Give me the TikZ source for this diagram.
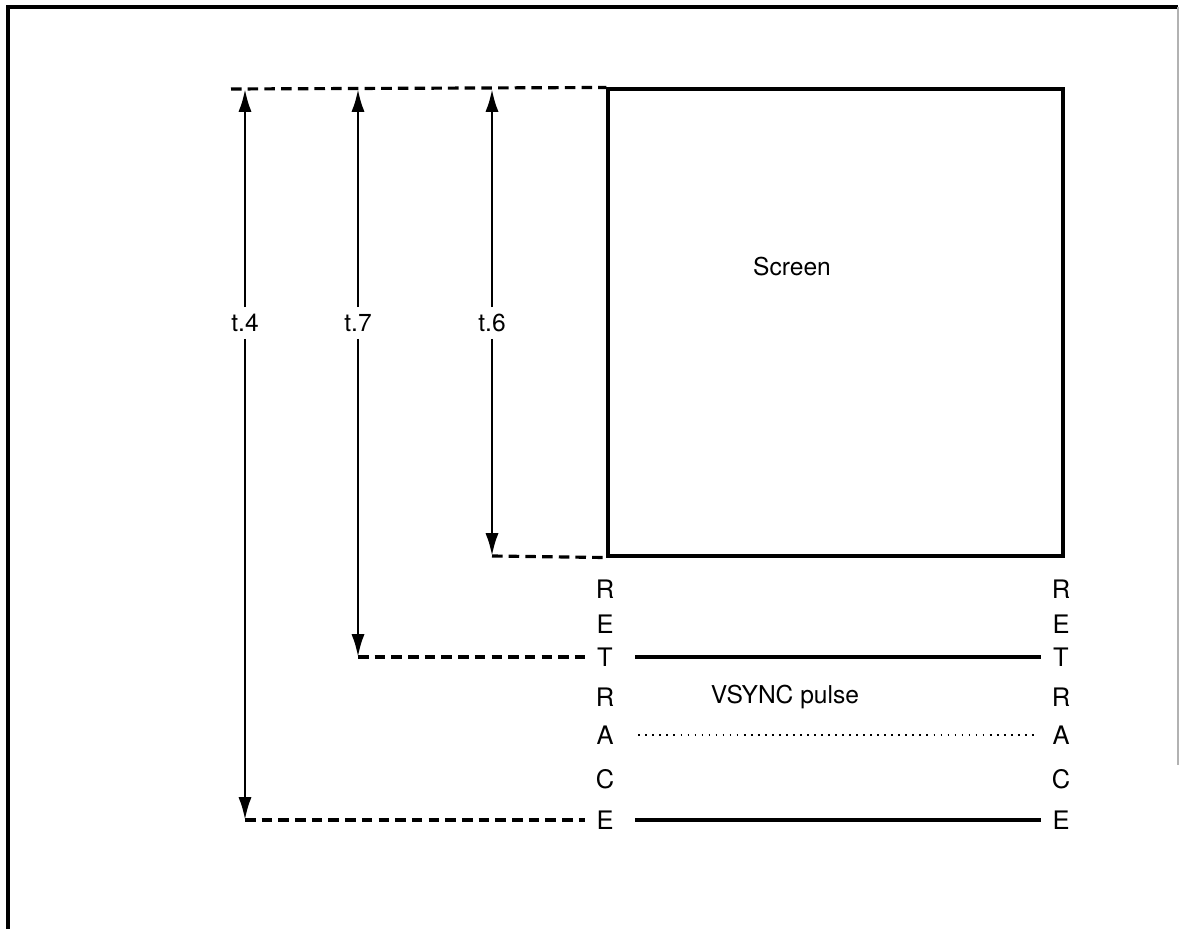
\documentclass[tikz,border=0pt]{standalone}
\usepackage{fontspec}
\setmainfont{TeX Gyre Heros}
\usetikzlibrary{arrows.meta}
\usetikzlibrary{positioning}
\tikzset{frame/.style = {line width=1.8pt},
         screenbox/.style = {draw, line width=1.8pt, minimum width=9.1cm,
                             minimum height=9.34cm, inner sep=0pt},
         dimline/.style = {line width=1.6pt, -{Latex[length=13pt, width=7.5pt]}},
         guide/.style = {line width=1.8pt, dash pattern=on 6pt off 3.5pt},
         pulse/.style = {line width=1.8pt},
         dots/.style = {line width=1.2pt, dash pattern=on 1pt off 3pt},
         letter/.style = {font=\fontsize{14.5}{17}\selectfont, inner sep=0pt,
                          minimum width=0.8cm},
         tlabel/.style = {font=\fontsize{14}{17}\selectfont, inner xsep=0pt,
                          minimum height=0.62cm}}

\begin{document}
\begin{tikzpicture}[x=0.02cm, y=-0.02cm]
    \useasboundingbox (0, 0) rectangle (1180, 929);
    \draw [frame] (8, 929) -- (8, 7) -- (1178, 7);
    \draw [gray!60, line width=0.6pt] (1178, 7) -- (1178, 765);

    \node [screenbox] (screen) at (835.5, 322.5) {};
    \node [font=\fontsize{14}{17}\selectfont] (screenlab) at (792, 267) {Screen};

    % retrace columns
    \foreach \c/\y [count=\i] in {R/589, E/624, T/657, R/697, A/735, C/779, E/820} {
      \node [letter] (lret\i) at (605, \y) {\c};
      \node [letter] (rret\i) at (1061, \y) {\c};
    }

    \coordinate (dstart) at (231, 89);
    \foreach \n/\x/\t in {4/245/t.4, 7/358/t.7, 6/492/t.6} {
      \coordinate (t\n top) at (\x, 89);
      \node [tlabel] (t\n lab) at (\x, 323) {\t};
    }
    \coordinate (t4bot) at (t4top |- lret7);
    \coordinate (t7bot) at (t7top |- lret3);
    \coordinate (t6bot) at (492, 556);

    \foreach \n in {4, 7, 6} {
      \draw [dimline] (t\n lab.north) -- (t\n top);
      \draw [dimline] (t\n lab.south) -- (t\n bot);
    }

    \draw [guide] (dstart) -- (screen.north west);
    \draw [guide] (t6bot) -- (screen.south west);
    \draw [guide] (t7bot) -- (lret3.west);
    \draw [guide] (t4bot) -- (lret7.west);

    \draw [pulse, shorten <=0.2cm] (lret3.east) -- (rret3.west);
    \draw [pulse, shorten <=0.2cm] (lret7.east) -- (rret7.west);
    \draw [dots, shorten <=0.26cm, shorten >=0.1cm] (lret5.east) -- (rret5.west);

    \node [font=\fontsize{14}{17}\selectfont] (vsync) at (785, 697) {VSYNC pulse};
  \end{tikzpicture}
\end{document}
